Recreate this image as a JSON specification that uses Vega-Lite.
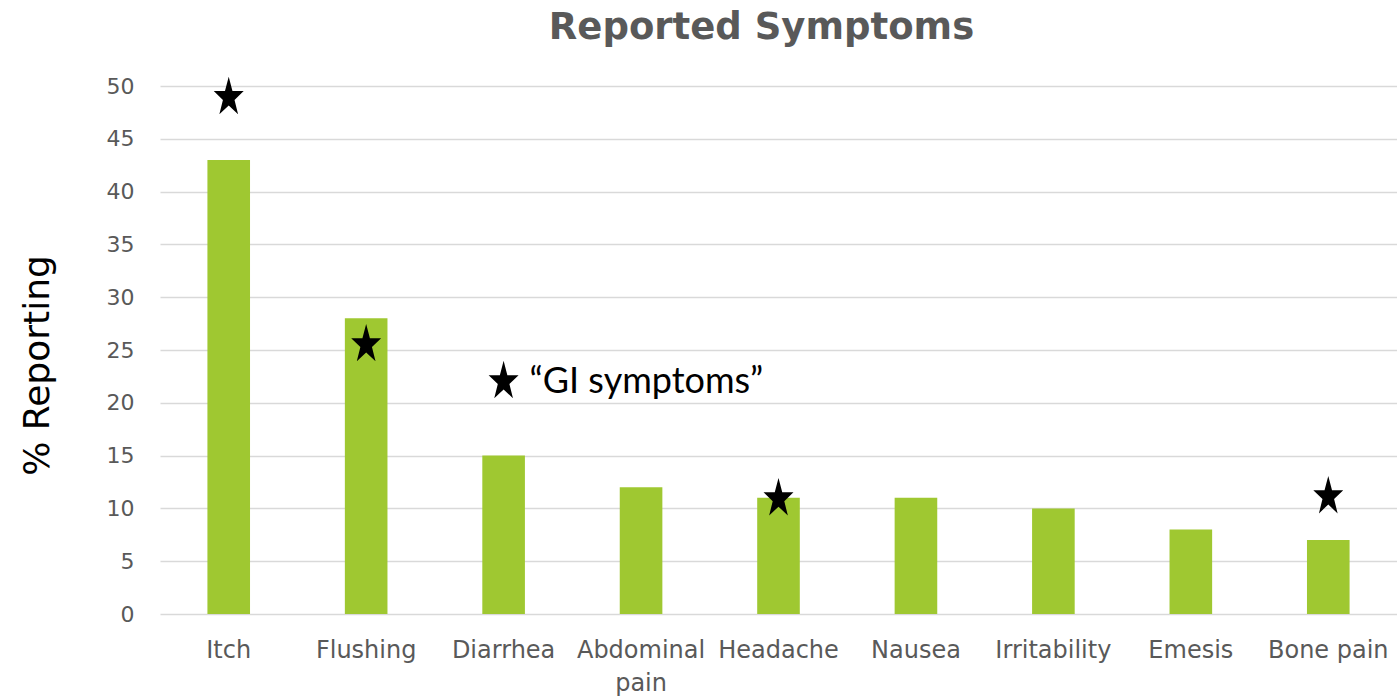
{
  "$schema": "https://vega.github.io/schema/vega-lite/v6.json",
  "width": 1237,
  "height": 528,
  "autosize": {"type": "none"},
  "padding": {"left": 160, "top": 86, "right": 0, "bottom": 85},
  "background": "white",
  "title": {
    "text": "Reported Symptoms",
    "font": "DejaVu Sans",
    "fontSize": 37,
    "fontWeight": "bold",
    "color": "#595959",
    "anchor": "middle",
    "offset": 28,
    "dx": -17
  },
  "config": {
    "view": {"stroke": null},
    "font": "DejaVu Sans"
  },
  "datasets": {
    "bars": [
      {"symptom": "Itch", "pct": 43},
      {"symptom": "Flushing", "pct": 28},
      {"symptom": "Diarrhea", "pct": 15},
      {"symptom": "Abdominal pain", "pct": 12},
      {"symptom": "Headache", "pct": 11},
      {"symptom": "Nausea", "pct": 11},
      {"symptom": "Irritability", "pct": 10},
      {"symptom": "Emesis", "pct": 8},
      {"symptom": "Bone pain", "pct": 7}
    ],
    "stars": [
      {"symptom": "Itch", "y": 49.1},
      {"symptom": "Flushing", "y": 25.7},
      {"symptom": "Diarrhea", "y": 22.2},
      {"symptom": "Headache", "y": 11.1},
      {"symptom": "Bone pain", "y": 11.3}
    ],
    "notes": [
      {"symptom": "Diarrhea", "y": 22, "label": "“GI symptoms”"}
    ]
  },
  "layer": [
    {
      "data": {"name": "bars"},
      "mark": {"type": "bar", "color": "#9FC831"},
      "encoding": {
        "x": {
          "field": "symptom",
          "type": "nominal",
          "sort": null,
          "scale": {"paddingInner": 0.69, "paddingOuter": 0.345},
          "axis": {
            "title": null,
            "domain": false,
            "ticks": false,
            "labelAngle": 0,
            "labelFontSize": 24,
            "labelColor": "#595959",
            "labelPadding": 24,
            "labelLineHeight": 33,
            "labelExpr": "datum.value == 'Abdominal pain' ? ['Abdominal', 'pain'] : datum.value"
          }
        },
        "y": {
          "field": "pct",
          "type": "quantitative",
          "scale": {"domain": [0, 50]},
          "axis": {
            "title": "% Reporting",
            "titleFontSize": 36,
            "titleFontWeight": "normal",
            "titleColor": "#000000",
            "titlePadding": 50,
            "titleY": 279,
            "values": [0, 5, 10, 15, 20, 25, 30, 35, 40, 45, 50],
            "domain": false,
            "ticks": false,
            "grid": true,
            "gridColor": "#D9D9D9",
            "gridWidth": 1.5,
            "labelFontSize": 22,
            "labelColor": "#595959",
            "labelPadding": 26
          }
        }
      }
    },
    {
      "data": {"name": "stars"},
      "mark": {
        "type": "point",
        "filled": true,
        "color": "#000000",
        "opacity": 1,
        "size": 1400,
        "shape": "M0,-1L0.2,-0.236L0.8,-0.236L0.31,0.236L0.5,1L0,0.528L-0.5,1L-0.31,0.236L-0.8,-0.236L-0.2,-0.236Z"
      },
      "encoding": {
        "x": {"field": "symptom", "type": "nominal", "sort": null},
        "y": {"field": "y", "type": "quantitative"}
      }
    },
    {
      "data": {"name": "notes"},
      "mark": {
        "type": "text",
        "align": "left",
        "baseline": "middle",
        "dx": 26,
        "font": "Lato",
        "fontSize": 36,
        "color": "#000000"
      },
      "encoding": {
        "x": {"field": "symptom", "type": "nominal", "sort": null},
        "y": {"field": "y", "type": "quantitative"},
        "text": {"field": "label"}
      }
    }
  ]
}
